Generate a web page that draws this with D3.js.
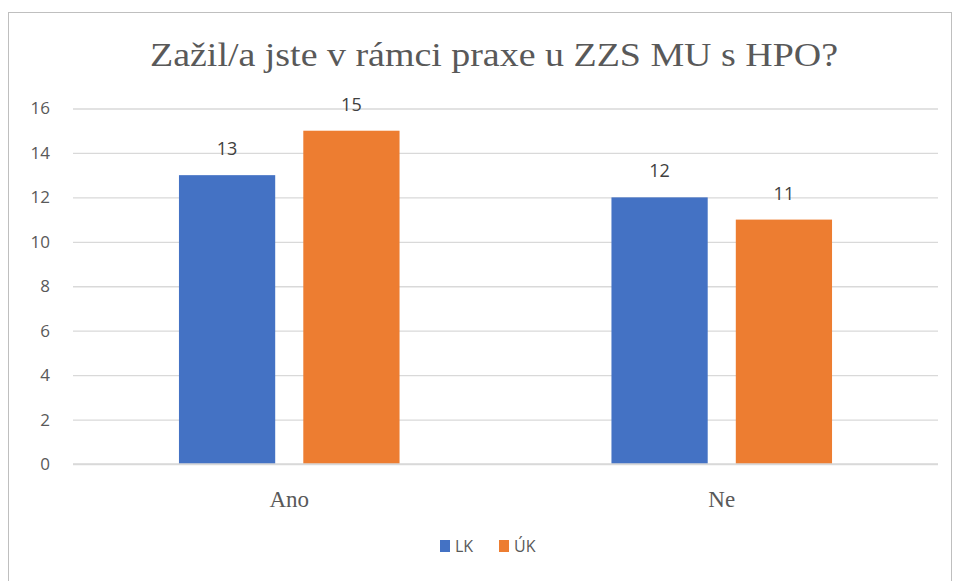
<!DOCTYPE html>
<html><head><meta charset="utf-8">
<script src="https://cdn.jsdelivr.net/npm/d3@7"></script>
<style>body{margin:0;background:#fff}svg{display:block}
.serif{font-family:"Liberation Serif","Times New Roman",serif}
.sans{font-family:"Open Sans","Noto Sans",sans-serif}</style>
</head><body>
<svg id="c" width="954" height="581"></svg>
<script>
const categories = ["Ano", "Ne"];
const seriesNames = ["LK", "ÚK"];
const LK = [13, 12];
const UK = [15, 11];
const yTicks = [0, 2, 4, 6, 8, 10, 12, 14, 16];
const colors = ["#4472C4", "#ED7D31"];
const titleText = "Zažil/a jste v rámci praxe u ZZS MU s HPO?";

const svg = d3.select("#c");
svg.append("rect").attr("x", 8.5).attr("y", 12.5).attr("width", 943).attr("height", 580)
  .attr("fill", "#fff").attr("stroke", "#bfbfbf").attr("stroke-width", 1);

const m = {left: 73, right: 938, top: 108.5, bottom: 464};
const x0 = d3.scaleBand().domain(categories).range([m.left, m.right]).paddingInner(0.49).paddingOuter(0.245);
const x1 = d3.scaleBand().domain(seriesNames).range([0, x0.bandwidth()]).paddingInner(0.226);
const y = d3.scaleLinear().domain([0, 16]).range([m.bottom, m.top]);

// gridlines
const yAxis = d3.axisLeft(y).tickValues(yTicks).tickSize(-(m.right - m.left)).tickPadding(23);
const ga = svg.append("g").attr("transform", `translate(${m.left},0)`).call(yAxis);
ga.select(".domain").remove();
ga.selectAll(".tick line").attr("stroke", "#d9d9d9").attr("stroke-width", 1.3);
ga.selectAll(".tick text").attr("fill", "#595959").attr("class", "sans").attr("font-family", null).attr("font-size", 17);

const data = categories.map((c, i) => ({cat: c, vals: [LK[i], UK[i]]}));
const groups = svg.append("g").selectAll("g").data(data).join("g")
  .attr("transform", d => `translate(${x0(d.cat)},0)`);
groups.selectAll("rect").data(d => d.vals.map((v, j) => ({s: seriesNames[j], v, j})))
  .join("rect")
  .attr("x", d => x1(d.s)).attr("width", x1.bandwidth())
  .attr("y", d => y(d.v)).attr("height", d => y(0) - y(d.v))
  .attr("fill", d => colors[d.j]);
groups.selectAll("text.val").data(d => d.vals.map((v, j) => ({s: seriesNames[j], v, j})))
  .join("text").attr("class", "val sans")
  .attr("x", d => x1(d.s) + x1.bandwidth() / 2).attr("y", d => y(d.v) - 20)
  .attr("text-anchor", "middle").attr("fill", "#404040")
  .attr("font-size", 18).text(d => d.v);

// x-axis baseline
svg.append("line").attr("x1", m.left).attr("x2", m.right).attr("y1", y(0)).attr("y2", y(0))
  .attr("stroke", "#d9d9d9").attr("stroke-width", 1.3);

// category labels
svg.append("g").selectAll("text").data(categories).join("text")
  .attr("class", "serif")
  .attr("x", d => x0(d) + x0.bandwidth() / 2).attr("y", 507)
  .attr("text-anchor", "middle").attr("fill", "#595959")
  .attr("font-size", 23).text(d => d);

// title
svg.append("text").attr("class", "serif").attr("x", 494).attr("y", 66).attr("text-anchor", "middle")
  .attr("fill", "#595959").attr("font-size", 34)
  .attr("textLength", 688).attr("lengthAdjust", "spacingAndGlyphs")
  .text(titleText);

// legend
const lg = svg.append("g");
const legX = [440, 499];
seriesNames.forEach((s, i) => {
  lg.append("rect").attr("x", legX[i]).attr("y", 540).attr("width", 10).attr("height", 12).attr("fill", colors[i]);
  lg.append("text").attr("class", "sans").attr("x", legX[i] + 15).attr("y", 552).attr("fill", "#595959")
    .attr("font-size", 16).text(s);
});
</script>
</body></html>
